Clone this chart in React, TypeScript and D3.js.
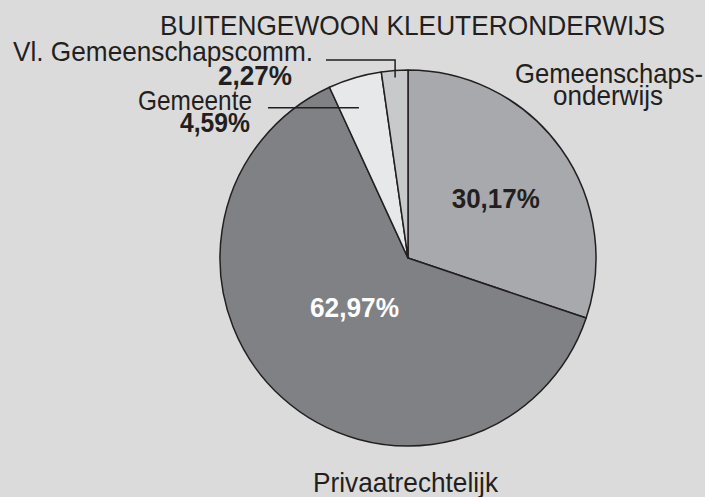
import React from "react";
import * as d3 from "d3";

const title = "BUITENGEWOON KLEUTERONDERWIJS";
const categories = ["Gemeenschapsonderwijs", "Privaatrechtelijk", "Gemeente", "Vl. Gemeenschapscomm."];
const values = [30.17, 62.97, 4.59, 2.27];
const valueLabels = ["30,17%", "62,97%", "4,59%", "2,27%"];

const W = 705;
const H = 497;
const cx = 408;
const cy = 258;
const R = 188;
const colors = ["#a8a9ac", "#808184", "#e7e8ea", "#c8c9cb"];
const FONT = "'Liberation Sans', Arial, Helvetica, sans-serif";
const FS = 28;
const FSB = 27;

export default function App() {
  const pie = d3.pie<number>().sort(null).value((d) => d);
  const arcs = pie(values);
  const arc = d3.arc<d3.PieArcDatum<number>>().innerRadius(0).outerRadius(R);

  const pt = (a: d3.PieArcDatum<number>, frac: number, r: number) => {
    const ang = a.startAngle + frac * (a.endAngle - a.startAngle);
    return [Math.sin(ang) * r, -Math.cos(ang) * r];
  };

  const inner0 = pt(arcs[0], 0.5, 108);
  const inner1 = pt(arcs[1], 0.5, 80);
  const vlEnd = pt(arcs[3], 0.5, 181);
  const gmEnd = pt(arcs[2], 0.4, 158);

  return (
    <svg width={W} height={H} style={{ position: "absolute", left: 0, top: 0, background: "#dbdbdb" }}>
      <rect x={0} y={0} width={W} height={H} fill="#dbdbdb" />
      <g transform={`translate(${cx},${cy})`}>
        {arcs.map((a, i) => (
          <path key={categories[i]} d={arc(a) || ""} fill={colors[i]} stroke="#231f20" strokeWidth={1.5} strokeLinejoin="round" />
        ))}
        <text x={inner0[0]} y={inner0[1] + 13} textAnchor="middle" fontFamily={FONT} fontWeight="bold" fontSize={FSB} fill="#231f20" textLength={88} lengthAdjust="spacingAndGlyphs">
          {valueLabels[0]}
        </text>
        <text x={inner1[0]} y={inner1[1]} textAnchor="middle" fontFamily={FONT} fontWeight="bold" fontSize={FSB} fill="#ffffff" textLength={89} lengthAdjust="spacingAndGlyphs">
          {valueLabels[1]}
        </text>
        <polyline points={`${326 - cx},${60 - cy} ${vlEnd[0]},${60 - cy} ${vlEnd[0]},${vlEnd[1]}`} fill="none" stroke="#231f20" strokeWidth={1.5} />
        <polyline points={`${268 - cx},${gmEnd[1]} ${gmEnd[0]},${gmEnd[1]}`} fill="none" stroke="#231f20" strokeWidth={1.5} />
      </g>
      <g fontFamily={FONT} fill="#231f20">
        <text x={160} y={35} fontSize={FS} textLength={505} lengthAdjust="spacingAndGlyphs">{title}</text>
        <text x={13} y={61} fontSize={FS} textLength={300} lengthAdjust="spacingAndGlyphs">{categories[3]}</text>
        <text x={218} y={85} fontSize={FSB} fontWeight="bold" textLength={74} lengthAdjust="spacingAndGlyphs">{valueLabels[3]}</text>
        <text x={138} y={110} fontSize={FS} textLength={114} lengthAdjust="spacingAndGlyphs">{categories[2]}</text>
        <text x={180} y={132} fontSize={FSB} fontWeight="bold" textLength={70} lengthAdjust="spacingAndGlyphs">{valueLabels[2]}</text>
        <text x={515} y={83} fontSize={FS} textLength={188} lengthAdjust="spacingAndGlyphs">Gemeenschaps-</text>
        <text x={553} y={105} fontSize={FS} textLength={110} lengthAdjust="spacingAndGlyphs">onderwijs</text>
        <text x={313} y={492} fontSize={FS} textLength={185} lengthAdjust="spacingAndGlyphs">{categories[1]}</text>
      </g>
    </svg>
  );
}
